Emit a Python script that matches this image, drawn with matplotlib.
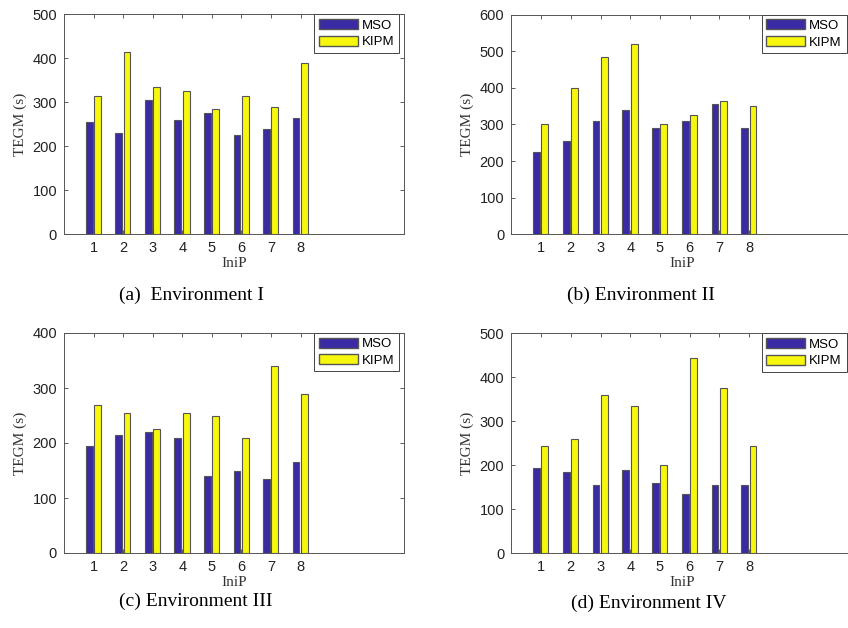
import matplotlib
matplotlib.use('Agg')
import matplotlib.pyplot as plt
import numpy as np
from matplotlib.patches import Patch

# IniP index and the two methods
inip = [1, 2, 3, 4, 5, 6, 7, 8]
series_names = ["MSO", "KIPM"]

mso_env1 = [255, 230, 305, 260, 275, 225, 240, 265]
kipm_env1 = [315, 415, 335, 325, 285, 315, 290, 390]

mso_env2 = [225, 255, 310, 340, 290, 310, 355, 290]
kipm_env2 = [300, 400, 485, 520, 300, 325, 365, 350]

mso_env3 = [195, 215, 220, 210, 140, 150, 135, 165]
kipm_env3 = [270, 255, 225, 255, 250, 210, 340, 290]

mso_env4 = [195, 185, 155, 190, 160, 135, 155, 155]
kipm_env4 = [245, 260, 360, 335, 200, 445, 375, 245]

captions = ["(a)  Environment I", "(b) Environment II",
            "(c) Environment III", "(d) Environment IV"]
ymax = [500, 600, 400, 500]

MSO_COLOR = "#3a2aa3"
KIPM_COLOR = "#f7f70e"
EDGE = "#555555"
SANS = "Liberation Sans"
SERIF = "Liberation Serif"

fig = plt.figure(figsize=(8.48, 6.28), dpi=100)

W, H = 848, 628
# axes boxes in pixels: left, top, bottom, width (right panels run off the page)
boxes = [(64, 14.3, 234, 340), (511.3, 14.7, 234.3, 342),
         (64, 333, 553, 340), (511.3, 333.3, 553.3, 342)]
cap_pos = [(119, 295), (567, 295), (119, 601), (571, 603)]

data = [(mso_env1, kipm_env1), (mso_env2, kipm_env2),
        (mso_env3, kipm_env3), (mso_env4, kipm_env4)]

x = np.array(inip)
bw = 0.23
for k in range(4):
    l, t, b, ax_w = boxes[k]
    ax = fig.add_axes([l / W, 1 - b / H, ax_w / W, (b - t) / H])
    mso, kipm = data[k]
    ax.bar(x - 0.15, mso, bw, color=MSO_COLOR, edgecolor=EDGE, linewidth=0.8)
    ax.bar(x + 0.13, kipm, bw, color=KIPM_COLOR, edgecolor=EDGE, linewidth=0.8)
    ax.set_xlim(0, 11.5)
    ax.set_ylim(0, ymax[k])
    ax.set_xticks(inip)
    ax.set_yticks(np.arange(0, ymax[k] + 1, 100))
    ax.tick_params(direction='in', top=True, right=True, length=3,
                   width=0.6, color="#444444", labelsize=10.5, pad=5)
    for lab in ax.get_xticklabels() + ax.get_yticklabels():
        lab.set_fontfamily(SANS)
        lab.set_color("#222222")
    for sp in ax.spines.values():
        sp.set_color("#555555")
        sp.set_linewidth(0.7)
    ax.set_xlabel("IniP", fontfamily=SERIF, fontsize=11, labelpad=1.5, color="#333333")
    ax.set_ylabel("TEGM (s)", fontfamily=SERIF, fontsize=11, labelpad=4, color="#333333")

    handles = [Patch(facecolor=MSO_COLOR, edgecolor=EDGE, label=series_names[0]),
               Patch(facecolor=KIPM_COLOR, edgecolor=EDGE, label=series_names[1])]
    leg_right = (ax_w - 5) / ax_w if k % 2 == 0 else (846.5 - l) / ax_w
    leg = ax.legend(handles=handles, loc='upper right',
                    bbox_to_anchor=(leg_right, 1.0), borderaxespad=0,
                    fancybox=False, framealpha=1, edgecolor="#444444",
                    prop={'family': SANS, 'size': 9.5},
                    handlelength=2.95, handleheight=0.8, handletextpad=0.3,
                    labelspacing=0.3, borderpad=0.35)
    leg.get_frame().set_linewidth(0.7)

    cx, cy = cap_pos[k]
    fig.text(cx / W, 1 - cy / H, captions[k], fontfamily=SERIF, fontsize=14,
             ha='left', va='center')

plt.savefig("out.png", dpi=100)
plt.close()
